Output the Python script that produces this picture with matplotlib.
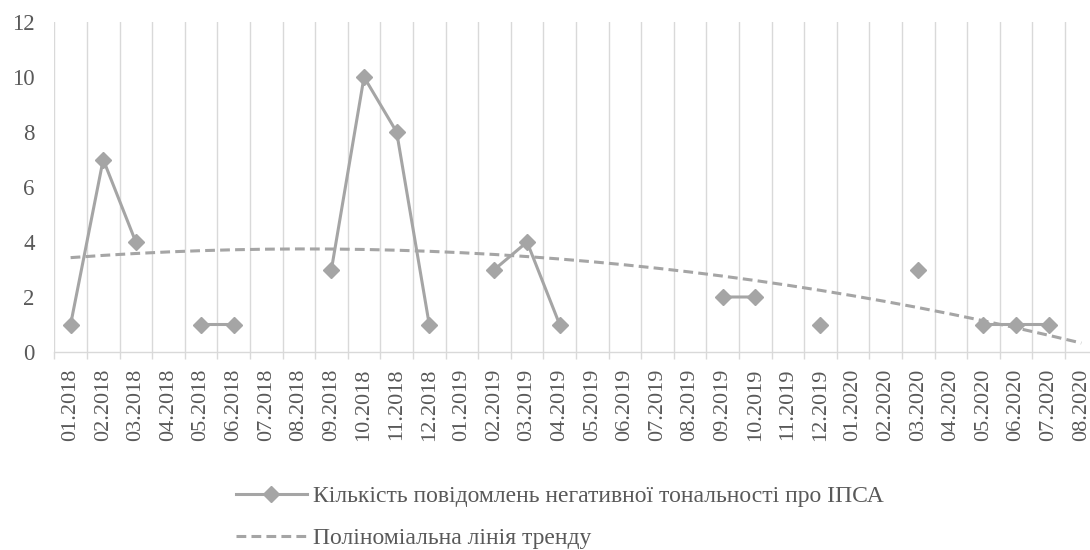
import matplotlib
matplotlib.use("Agg")
import matplotlib.pyplot as plt
import numpy as np

# monthly categories 01.2018 .. 08.2020
months = ["%02d.%d" % (m, y) for y in (2018, 2019, 2020) for m in range(1, 13)][:32]

# counts of negative-tone messages (None = no data)
counts = [1, 7, 4, None, 1, 1, None, None, 3, 10, 8, 1,
          None, 3, 4, 1, None, None, None, None, 2, 2, None, 1,
          None, None, 3, None, 1, 1, 1, None]

series_label = "Кількість повідомлень негативної тональності про ІПСА"
trend_label = "Поліноміальна лінія тренду"

grey = "#A5A5A5"
text_grey = "#595959"
grid_grey = "#D9D9D9"

plt.rcParams["font.family"] = ["Liberation Serif", "DejaVu Serif"]

y = np.array([np.nan if v is None else v for v in counts], dtype=float)
x = np.arange(len(months))

# polynomial trend (order 2) fitted on the existing points, like Excel
ok = ~np.isnan(y)
coef = np.polyfit(x[ok] + 1, y[ok], 2)
trend = np.polyval(coef, x + 1)

fig = plt.figure(figsize=(10.9, 5.5), dpi=100)
ax = fig.add_axes([54.3 / 1090, 198 / 550, (1097.6 - 54.3) / 1090, 330 / 550])

ax.plot(x, y, color=grey, lw=2.2, marker="D", markersize=8,
        markeredgecolor=grey, markerfacecolor=grey, label=series_label,
        zorder=3)
ax.plot(x, trend, color=grey, lw=2.2, dashes=(3.2, 1.7), label=trend_label,
        zorder=2)

ax.set_xlim(-0.5, len(months) - 0.5)
ax.set_ylim(0, 12)
ax.set_yticks(range(0, 13, 2))

ax.set_xticks(x)
ax.set_xticklabels(months, rotation=90, fontsize=16, color=text_grey)
ax.set_xticks(np.arange(-0.5, len(months)), minor=True)
ax.tick_params(axis="x", which="major", length=0, pad=12)
ax.tick_params(axis="x", which="minor", length=5, color=grid_grey, width=1)
ax.tick_params(axis="y", length=0, pad=14, labelsize=16.5, labelcolor=text_grey)
ax.grid(axis="x", which="minor", color=grid_grey, lw=1)
ax.grid(axis="x", which="major", visible=False)

for s in ("top", "right", "left"):
    ax.spines[s].set_visible(False)
ax.spines["bottom"].set_color(grid_grey)
ax.spines["bottom"].set_linewidth(1)

leg = fig.legend(loc="center left", bbox_to_anchor=(236 / 1090, 1 - 517.5 / 550),
                 frameon=False, fontsize=17, borderpad=0, labelspacing=0.85,
                 handlelength=3.0, handletextpad=0.25, borderaxespad=0)
for t in leg.get_texts():
    t.set_color(text_grey)

fig.savefig("out.png", dpi=100)
